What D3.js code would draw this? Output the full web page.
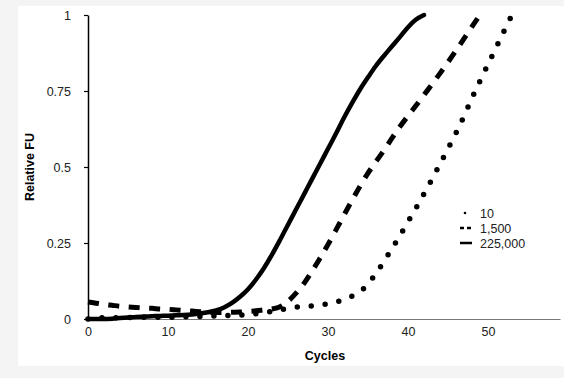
<!DOCTYPE html>
<html>
<head>
<meta charset="utf-8">
<script src="https://cdn.jsdelivr.net/npm/d3@7"></script>
<style>
  body { margin: 0; background: #f4f4f4; }
  svg { display: block; }
  text { font-family: "Liberation Sans", Arial, sans-serif; }
</style>
</head>
<body>
<div id="chart"></div>
<script>
// Chart data
var seriesNames = ["10", "1,500", "225,000"];

var cycles10 = d3.range(0, 54);
var values10 = [0, 0.002, 0.004, 0.004, 0.005, 0.005, 0.005, 0.006, 0.006, 0.006,
  0.006, 0.006, 0.007, 0.007, 0.008, 0.009, 0.01, 0.011, 0.012, 0.013,
  0.015, 0.017, 0.02, 0.025, 0.03, 0.035, 0.039, 0.041, 0.043, 0.046,
  0.05, 0.056, 0.063, 0.075, 0.09, 0.115, 0.15, 0.19, 0.232, 0.275,
  0.32, 0.365, 0.412, 0.46, 0.51, 0.56, 0.612, 0.667, 0.727, 0.783,
  0.838, 0.892, 0.947, 1.0];

var cycles1500 = d3.range(0, 50);
var values1500 = [0.056, 0.052, 0.048, 0.045, 0.042, 0.04, 0.038, 0.036, 0.035, 0.033,
  0.032, 0.03, 0.028, 0.026, 0.024, 0.022, 0.021, 0.021, 0.022, 0.023,
  0.025, 0.027, 0.03, 0.033, 0.04, 0.058, 0.085, 0.117, 0.157, 0.2,
  0.245, 0.293, 0.342, 0.39, 0.437, 0.48, 0.518, 0.555, 0.595, 0.633,
  0.668, 0.702, 0.737, 0.772, 0.808, 0.845, 0.883, 0.922, 0.962, 1.0];

var cycles225000 = d3.range(0, 43);
var values225000 = [0, 0, 0, 0.001, 0.003, 0.005, 0.007, 0.008, 0.009, 0.01,
  0.011, 0.012, 0.013, 0.015, 0.018, 0.022, 0.028, 0.038, 0.053, 0.073,
  0.098, 0.13, 0.168, 0.212, 0.26, 0.31, 0.36, 0.41, 0.46, 0.51,
  0.56, 0.61, 0.662, 0.71, 0.755, 0.795, 0.833, 0.866, 0.897, 0.928,
  0.96, 0.985, 1.0];

var xTicks = [0, 10, 20, 30, 40, 50];
var yTicks = [0, 0.25, 0.5, 0.75, 1];

var svgWidth = 564;
var svgHeight = 378;
var fontSize = 12.5;

var svg = d3.select("#chart")
  .append("svg")
  .attr("width", svgWidth)
  .attr("height", svgHeight);

// white panel
svg.append("rect")
  .attr("x", 18).attr("y", 6)
  .attr("width", 546).attr("height", 360)
  .attr("fill", "#fff");

var xScale = d3.scaleLinear().domain([0, 59]).range([88, 560]);
var yScale = d3.scaleLinear().domain([0, 1]).range([319, 15]);

// x axis: grey line, no ticks
var xAxis = svg.append("g")
  .attr("transform", "translate(0," + yScale(0) + ")")
  .call(d3.axisBottom(xScale).tickValues(xTicks).tickSize(0).tickPadding(8));
xAxis.select(".domain").attr("stroke", "#777").attr("stroke-width", 1.2);
xAxis.selectAll("text").attr("font-size", fontSize).attr("fill", "#222")
  .attr("font-family", "Liberation Sans, Arial, sans-serif");

// y axis
var yAxis = svg.append("g")
  .attr("transform", "translate(" + xScale(0) + ",0)")
  .call(d3.axisLeft(yScale).tickValues(yTicks).tickSizeInner(4).tickSizeOuter(0)
    .tickPadding(13).tickFormat(d => String(d)));
yAxis.select(".domain").attr("stroke", "#000").attr("stroke-width", 1.5);
yAxis.selectAll(".tick line").attr("stroke", "#000").attr("stroke-width", 1.2);
yAxis.selectAll("text").attr("font-size", fontSize).attr("fill", "#222")
  .attr("font-family", "Liberation Sans, Arial, sans-serif");

// axis titles
svg.append("text")
  .attr("x", 325).attr("y", 360)
  .attr("text-anchor", "middle")
  .attr("font-size", fontSize).attr("font-weight", "bold")
  .text("Cycles");

svg.append("text")
  .attr("transform", "translate(34,167) rotate(-90)")
  .attr("text-anchor", "middle")
  .attr("font-size", fontSize).attr("font-weight", "bold")
  .text("Relative FU");

var line = d3.line()
  .x(d => xScale(d[0]))
  .y(d => yScale(d[1]))
  .curve(d3.curveMonotoneX);

var styles = [
  { dash: "0,14", cap: "round", width: 5.5 },
  { dash: "11,9.5", cap: "butt", width: 5 },
  { dash: null, cap: "round", width: 4.5 }
];

var allSeries = [
  d3.zip(cycles10, values10),
  d3.zip(cycles1500, values1500),
  d3.zip(cycles225000, values225000)
];

svg.selectAll(".series")
  .data(allSeries)
  .enter()
  .append("path")
  .attr("class", "series")
  .attr("d", line)
  .attr("fill", "none")
  .attr("stroke", "#000")
  .attr("stroke-width", (d, i) => styles[i].width)
  .attr("stroke-linecap", (d, i) => styles[i].cap)
  .attr("stroke-dasharray", (d, i) => styles[i].dash);

// legend
var legend = svg.append("g").attr("transform", "translate(460,213)");
seriesNames.forEach(function(name, i) {
  var row = legend.append("g").attr("transform", "translate(0," + i * 15 + ")");
  if (i === 0) {
    row.append("circle").attr("cx", 5).attr("cy", 0).attr("r", 1.3).attr("fill", "#000");
  } else if (i === 1) {
    row.append("line").attr("x1", 0).attr("x2", 11).attr("y1", 0).attr("y2", 0)
      .attr("stroke", "#000").attr("stroke-width", 2.5).attr("stroke-dasharray", "4,3");
  } else {
    row.append("line").attr("x1", 0).attr("x2", 12).attr("y1", 0).attr("y2", 0)
      .attr("stroke", "#000").attr("stroke-width", 2.5);
  }
  row.append("text")
    .attr("x", 20).attr("y", 4.5)
    .attr("font-size", fontSize).attr("fill", "#222")
    .text(name);
});
</script>
</body>
</html>
